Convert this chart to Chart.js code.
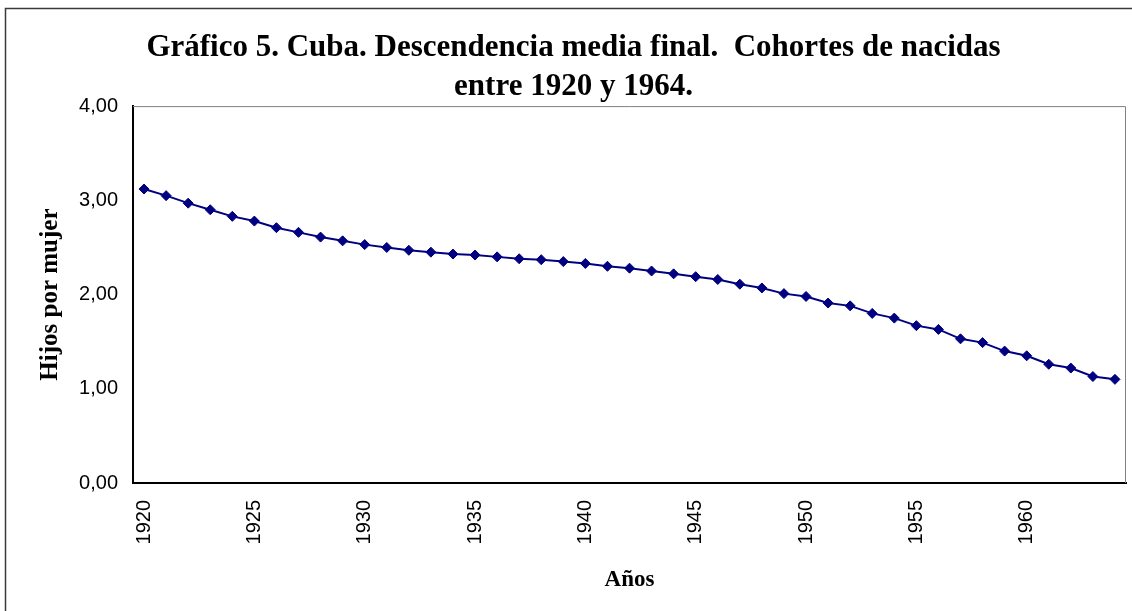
<!DOCTYPE html>
<html lang="es">
<head>
<meta charset="utf-8">
<title>Gráfico 5. Cuba. Descendencia media final</title>
<script src="https://cdn.jsdelivr.net/npm/chart.js@4.4.1/dist/chart.umd.min.js"></script>
<style>
  html, body { margin: 0; padding: 0; background: #fff; }
  #wrap { width: 1132px; height: 611px; position: relative; }
</style>
</head>
<body>
<div id="wrap"><canvas id="grafico" width="1132" height="611"></canvas></div>
<script>
// Cohortes de nacidas, 1920–1964
const years = [
  1920, 1921, 1922, 1923, 1924, 1925, 1926, 1927, 1928, 1929,
  1930, 1931, 1932, 1933, 1934, 1935, 1936, 1937, 1938, 1939,
  1940, 1941, 1942, 1943, 1944, 1945, 1946, 1947, 1948, 1949,
  1950, 1951, 1952, 1953, 1954, 1955, 1956, 1957, 1958, 1959,
  1960, 1961, 1962, 1963, 1964
];

// Descendencia media final (hijos por mujer)
const hijosPorMujer = [
  3.12, 3.05, 2.97, 2.90, 2.83, 2.78, 2.71, 2.66, 2.61, 2.57,
  2.53, 2.50, 2.47, 2.45, 2.43, 2.42, 2.40, 2.38, 2.37, 2.35,
  2.33, 2.30, 2.28, 2.25, 2.22, 2.19, 2.16, 2.11, 2.07, 2.01,
  1.98, 1.91, 1.88, 1.80, 1.75, 1.67, 1.63, 1.53, 1.49, 1.40,
  1.35, 1.26, 1.22, 1.13, 1.10
];

// Only every fifth cohort gets a label on the x axis
const labelledYears = [1920, 1925, 1930, 1935, 1940, 1945, 1950, 1955, 1960];
const yTicks = [0, 1, 2, 3, 4];

const titleLines = [
  'Gráfico 5. Cuba. Descendencia media final.  Cohortes de nacidas',
  'entre 1920 y 1964.'
];

Chart.defaults.color = '#000';

// White background, outer frame and the light top/right edges of the plot box
const framePlugin = {
  id: 'frame',
  beforeDraw(chart) {
    const ctx = chart.ctx;
    ctx.save();
    ctx.fillStyle = '#fff';
    ctx.fillRect(0, 0, chart.width, chart.height);
    ctx.strokeStyle = '#3a3a3a';
    ctx.lineWidth = 1.5;
    ctx.beginPath();
    ctx.moveTo(5.5, chart.height + 5);
    ctx.lineTo(5.5, 8.5);
    ctx.lineTo(chart.width + 5, 8.5);
    ctx.stroke();
    ctx.restore();
  },
  afterDatasetsDraw(chart) {
    const {ctx, chartArea: a} = chart;
    ctx.save();
    ctx.strokeStyle = '#808080';
    ctx.lineWidth = 1;
    ctx.beginPath();
    ctx.moveTo(a.left, a.top + 0.5);
    ctx.lineTo(a.right - 0.5, a.top + 0.5);
    ctx.lineTo(a.right - 0.5, a.bottom);
    ctx.stroke();
    ctx.restore();
  }
};

new Chart(document.getElementById('grafico'), {
  type: 'line',
  data: {
    labels: years,
    datasets: [{
      label: 'Descendencia media final',
      data: hijosPorMujer,
      borderColor: '#000080',
      backgroundColor: '#000080',
      borderWidth: 2,
      pointStyle: 'rectRot',
      pointRadius: 5,
      pointHoverRadius: 5,
      pointBorderWidth: 1,
      pointBackgroundColor: '#000080',
      pointBorderColor: '#000080',
      tension: 0,
      fill: false
    }]
  },
  options: {
    responsive: false,
    animation: false,
    events: [],
    layout: { padding: { left: 19, right: 4, top: 0, bottom: 0 } },
    plugins: {
      legend: { display: false },
      tooltip: { enabled: false },
      title: {
        display: true,
        text: titleLines,
        color: '#000',
        font: { family: 'Liberation Serif', size: 31, weight: 'bold', lineHeight: 1.26 },
        padding: { top: 28, bottom: 0 }
      }
    },
    scales: {
      x: {
        type: 'category',
        offset: true,
        grid: { display: false, drawTicks: false },
        border: { display: true, color: '#000', width: 2 },
        ticks: {
          autoSkip: false,
          minRotation: 90,
          maxRotation: 90,
          padding: 17,
          font: { family: 'Liberation Sans', size: 20 },
          callback(value, index) {
            const y = years[index];
            return labelledYears.includes(y) ? String(y) : '';
          }
        },
        title: {
          display: true,
          text: 'Años',
          font: { family: 'Liberation Serif', size: 23, weight: 'bold', lineHeight: 1.2 },
          padding: { top: 0, bottom: 17 }
        },
        afterFit(scale) {
          scale.height = 128;
          scale.paddingLeft = 0;
          scale.paddingRight = 0;
        }
      },
      y: {
        min: 0,
        max: 4,
        grid: { display: false, drawTicks: false },
        border: { display: true, color: '#000', width: 2 },
        afterBuildTicks(scale) {
          scale.ticks = yTicks.map(v => ({ value: v }));
        },
        ticks: {
          padding: 15,
          font: { family: 'Liberation Sans', size: 20 },
          callback(value) {
            return value.toFixed(2).replace('.', ',');
          }
        },
        title: {
          display: true,
          text: 'Hijos por mujer',
          font: { family: 'Liberation Serif', size: 25, weight: 'bold', lineHeight: 1.2 },
          padding: { top: 17, bottom: 0 }
        },
        afterFit(scale) { scale.width = 114; }
      }
    }
  },
  plugins: [framePlugin]
});
</script>
</body>
</html>
